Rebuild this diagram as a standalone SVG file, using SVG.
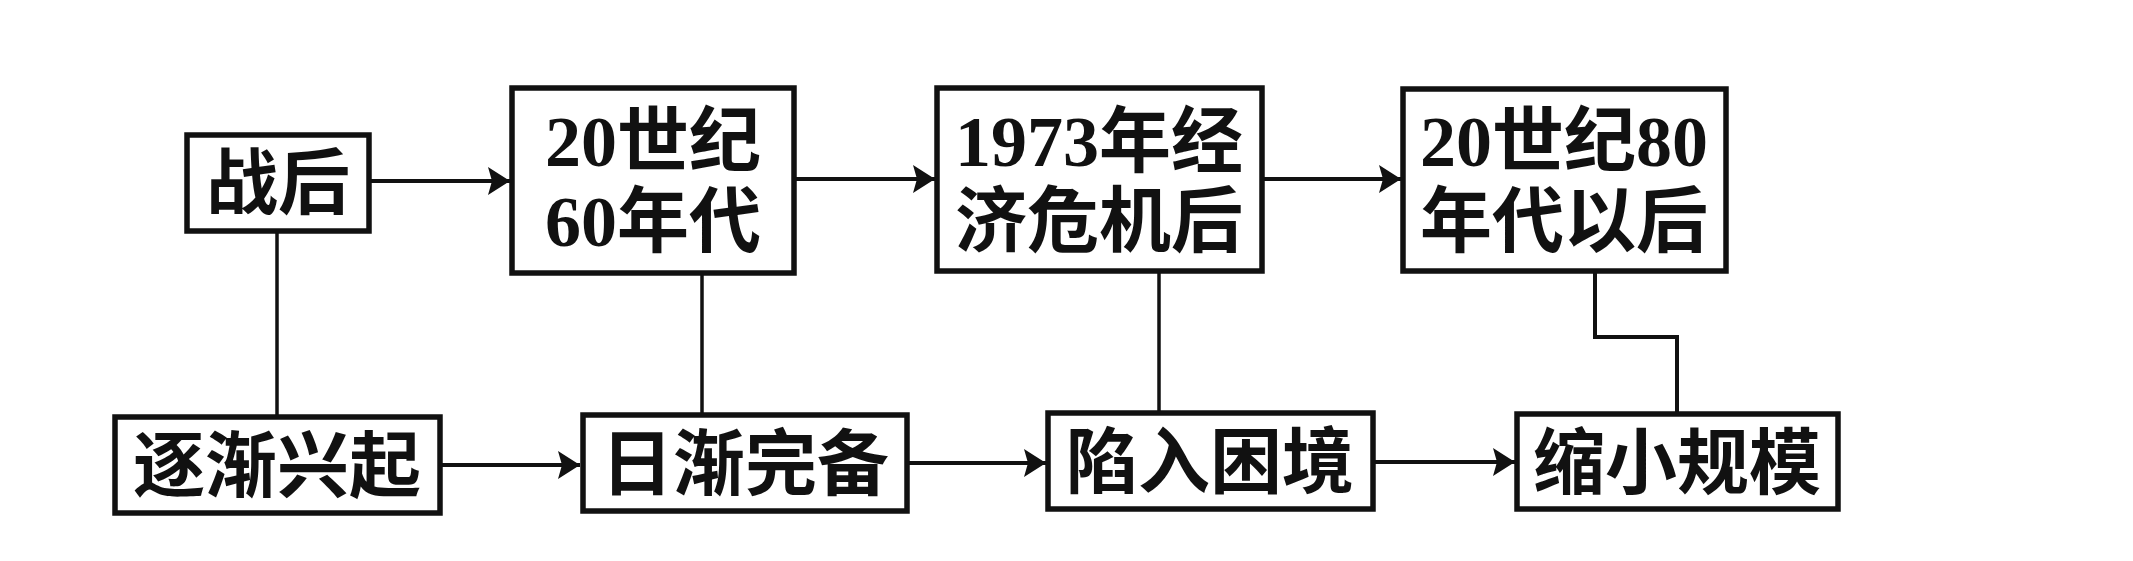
<svg xmlns="http://www.w3.org/2000/svg" width="2133" height="561" viewBox="0 0 2133 561">
<style>
.box{fill:#fff;stroke:#111;stroke-width:5.5}
.t{font-family:"Liberation Serif","Noto Sans CJK SC",serif;font-size:72px;font-weight:bold;fill:#111;text-anchor:middle}
.c{fill:none;stroke:#111;stroke-width:4}
.v{fill:none;stroke:#111;stroke-width:3.5}
</style>
<defs>
<marker id="ah" markerUnits="userSpaceOnUse" markerWidth="24" markerHeight="28" refX="22" refY="14" orient="auto">
<path d="M0,0 L22,14 L0,28 L4,14 z" fill="#111"/>
</marker>
</defs>
<rect width="2133" height="561" fill="#fff"/>
<g id="connectors">
<line class="c" x1="371" y1="181" x2="510" y2="181" marker-end="url(#ah)"/>
<line class="c" x1="796" y1="179" x2="935" y2="179" marker-end="url(#ah)"/>
<line class="c" x1="1264" y1="179" x2="1401" y2="179" marker-end="url(#ah)"/>
<line class="c" x1="442" y1="465" x2="580" y2="465" marker-end="url(#ah)"/>
<line class="c" x1="909" y1="463" x2="1046" y2="463" marker-end="url(#ah)"/>
<line class="c" x1="1375" y1="462" x2="1515" y2="462" marker-end="url(#ah)"/>
<line class="v" x1="277" y1="233" x2="277" y2="415"/>
<line class="v" x1="702" y1="275" x2="702" y2="413"/>
<line class="v" x1="1159" y1="273" x2="1159" y2="411"/>
<polyline class="c" stroke-width="5" points="1595,273 1595,337 1677,337 1677,412"/>
</g>
<g id="n1"><rect class="box" x="187" y="135" width="182" height="96"/><text class="t" x="278" y="208">战后</text></g>
<g id="n2"><rect class="box" x="512" y="88" width="282" height="185"/><text class="t" x="653" y="166">20世纪</text><text class="t" x="653" y="246">60年代</text></g>
<g id="n3"><rect class="box" x="937" y="88" width="325" height="183"/><text class="t" x="1099" y="166">1973年经</text><text class="t" x="1099" y="246">济危机后</text></g>
<g id="n4"><rect class="box" x="1403" y="89" width="323" height="182"/><text class="t" x="1564" y="166">20世纪80</text><text class="t" x="1564" y="246">年代以后</text></g>
<g id="n5"><rect class="box" x="115" y="417" width="325" height="96"/><text class="t" x="277" y="491">逐渐兴起</text></g>
<g id="n6"><rect class="box" x="583" y="415" width="324" height="96"/><text class="t" x="745" y="489">日渐完备</text></g>
<g id="n7"><rect class="box" x="1048" y="413" width="325" height="96"/><text class="t" x="1210" y="487">陷入困境</text></g>
<g id="n8"><rect class="box" x="1517" y="414" width="321" height="95"/><text class="t" x="1677" y="488">缩小规模</text></g>
</svg>
